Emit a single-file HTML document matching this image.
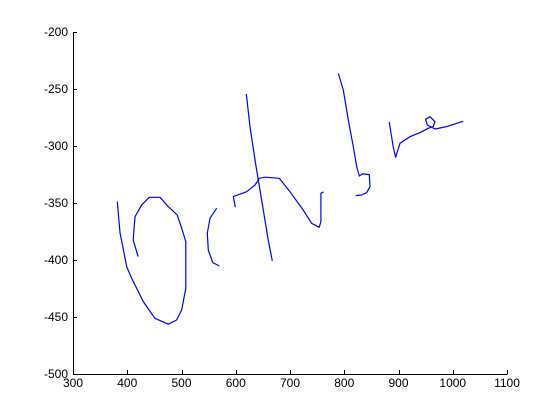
<!DOCTYPE html>
<html><head><meta charset="utf-8"><style>
html,body{margin:0;padding:0;background:#fff;width:560px;height:420px;overflow:hidden}
svg text{font-family:"Liberation Sans",sans-serif;font-size:12px;fill:#000}
</style></head><body>
<svg id="chart" width="560" height="420" xmlns="http://www.w3.org/2000/svg"></svg>
<script>
const xTicks=[300,400,500,600,700,800,900,1000,1100];
const yTicks=[-200,-250,-300,-350,-400,-450,-500];
const stroke1X=[381.6,386.6,399,408,429.6,451,475.6,491,500.3,508,508,500.3,492,475.6,460.3,440.6,426.6,414.3,411,420];
const stroke1Y=[-348.8,-376,-405.8,-416,-436.5,-451.1,-456.3,-452.6,-443.8,-424.8,-383.9,-372.2,-360.5,-353.2,-345,-345,-351.7,-362,-382.4,-397];
const stroke2X=[564.8,552.5,547.5,549.4,557.5,569.6];
const stroke2Y=[-354.6,-363.4,-376.5,-391.2,-402.3,-405.2];
const stroke3X=[599.1,595.4,598.6,620.1,635.4,643.4,653.9,680.2,699.9,724.4,739.9,753.9,757,757,762];
const stroke3Y=[-353.7,-344.4,-343.8,-340.1,-334.2,-328.3,-327.4,-328.3,-340.1,-356.1,-367.8,-371.3,-366.4,-341.5,-340.3];
const stroke4X=[619.4,626.2,635.4,641.5,650.7,659.9,667.3];
const stroke4Y=[-254.4,-283,-312.3,-329.8,-356.1,-382.4,-400.8];
const stroke5X=[789,798.2,807.4,816.6,822.9,827.7,833.9,846.1,847.4,841.3,832.1,821];
const stroke5Y=[-236.2,-250.9,-277.2,-300.6,-318.1,-326.3,-324.5,-325.1,-335.7,-340.9,-343,-343.6];
const stroke6X=[882.9,890.3,894.7,902.7,921.1,939.5,954.8,964,967.2,958,950,953,967.2,988.7,1019.3];
const stroke6Y=[-278.9,-300.6,-309.9,-297.6,-291.8,-288.3,-284.5,-283,-278.7,-274.3,-276.6,-281.6,-285.1,-283,-278.3];

const L=73,R=507,T=32,B=374;
const sx=v=>L+(v-300)/(1100-300)*(R-L);
const sy=v=>B-(v-(-500))/(-200-(-500))*(B-T);
const NS="http://www.w3.org/2000/svg";
const svg=document.getElementById('chart');
function mk(tag,attrs){const e=document.createElementNS(NS,tag);for(const k in attrs)e.setAttribute(k,attrs[k]);svg.appendChild(e);return e;}

const xa=mk('line',{x1:L,y1:B+0.5,x2:R+0.5,y2:B+0.5,stroke:'#000','stroke-width':1});


const ya=mk('line',{x1:L+0.5,y1:T,x2:L+0.5,y2:B+0.5,stroke:'#000','stroke-width':1});



xTicks.forEach(v=>{
  const x=Math.round(sx(v))+0.5;
  const t=mk('line',{x1:x,y1:B,x2:x,y2:B-4,stroke:'#000'});
  
  
  const tx=mk('text',{x:sx(v),y:B+13,'text-anchor':'middle'});
  tx.textContent=v;
  
  
});
yTicks.forEach(v=>{
  const y=Math.round(sy(v))+0.5;
  const t=mk('line',{x1:L,y1:y,x2:L+4,y2:y,stroke:'#000'});
  
  
  const tx=mk('text',{x:L-5,y:sy(v)+4,'text-anchor':'end'});
  tx.textContent=v;
  
  
});

const strokes=[[stroke1X,stroke1Y],[stroke2X,stroke2Y],[stroke3X,stroke3Y],[stroke4X,stroke4Y],[stroke5X,stroke5Y],[stroke6X,stroke6Y]];
strokes.forEach((s,i)=>{
  const pts=s[0].map((x,j)=>sx(x).toFixed(1)+','+sy(s[1][j]).toFixed(1)).join(' ');
  const p=mk('polyline',{points:pts,fill:'none',stroke:'#0000ff','stroke-width':1.2,'stroke-linejoin':'round'});
  
  
});
</script>
</body></html>
